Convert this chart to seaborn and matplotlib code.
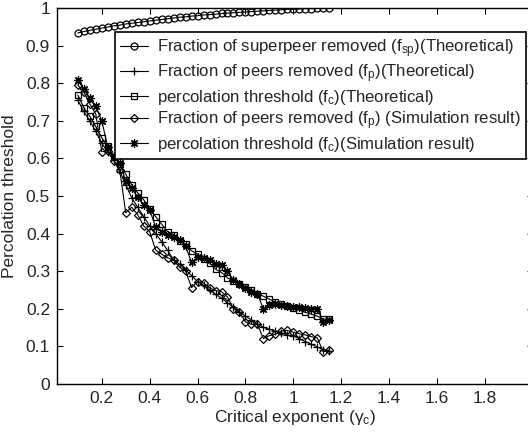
import numpy as np
import pandas as pd
import matplotlib
matplotlib.use("Agg")
import matplotlib.pyplot as plt
import seaborn as sns

# Critical exponent grid shared by all curves
gamma_c = [0.100, 0.125, 0.150, 0.175, 0.200, 0.225, 0.250, 0.275, 0.300, 0.325,
           0.350, 0.375, 0.400, 0.425, 0.450, 0.475, 0.500, 0.525, 0.550, 0.575,
           0.600, 0.625, 0.650, 0.675, 0.700, 0.725, 0.750, 0.775, 0.800, 0.825,
           0.850, 0.875, 0.900, 0.925, 0.950, 0.975, 1.000, 1.025, 1.050, 1.075,
           1.100, 1.125, 1.150]

# Fraction of superpeers removed (theoretical)
f_sp_theory = [0.934, 0.938, 0.941, 0.944, 0.947, 0.950, 0.953, 0.955, 0.958, 0.960,
               0.962, 0.964, 0.966, 0.968, 0.970, 0.972, 0.974, 0.976, 0.977, 0.979,
               0.980, 0.982, 0.983, 0.984, 0.986, 0.987, 0.988, 0.989, 0.990, 0.991,
               0.992, 0.993, 0.994, 0.995, 0.996, 0.997, 0.997, 0.998, 0.999, 0.999,
               1.000, 1.000, 1.000]

# Fraction of peers removed (theoretical)
f_p_theory = [0.755, 0.725, 0.700, 0.672, 0.640, 0.618, 0.595, 0.565, 0.530, 0.495,
              0.470, 0.445, 0.420, 0.400, 0.378, 0.355, 0.330, 0.318, 0.303, 0.288,
              0.272, 0.262, 0.250, 0.238, 0.228, 0.215, 0.203, 0.192, 0.180, 0.170,
              0.160, 0.150, 0.145, 0.140, 0.135, 0.130, 0.127, 0.120, 0.112, 0.105,
              0.098, 0.090, 0.088]

# Percolation threshold (theoretical)
f_c_theory = [0.769, 0.735, 0.712, 0.685, 0.655, 0.632, 0.605, 0.585, 0.558, 0.530,
              0.508, 0.490, 0.466, 0.445, 0.425, 0.405, 0.397, 0.380, 0.372, 0.354,
              0.345, 0.333, 0.322, 0.305, 0.296, 0.282, 0.273, 0.266, 0.258, 0.250,
              0.240, 0.233, 0.225, 0.218, 0.212, 0.207, 0.202, 0.196, 0.190, 0.185,
              0.180, 0.172, 0.172]

# Fraction of peers removed (simulation)
f_p_sim = [0.795, 0.777, 0.745, 0.718, 0.618, 0.620, 0.594, 0.570, 0.455, 0.470,
           0.450, 0.420, 0.405, 0.356, 0.345, 0.335, 0.330, 0.310, 0.300, 0.256,
           0.272, 0.268, 0.255, 0.248, 0.245, 0.231, 0.200, 0.190, 0.165, 0.158,
           0.158, 0.120, 0.128, 0.132, 0.140, 0.142, 0.137, 0.133, 0.130, 0.125,
           0.122, 0.085, 0.090]

# Percolation threshold (simulation)
f_c_sim = [0.808, 0.785, 0.760, 0.739, 0.700, 0.630, 0.606, 0.587, 0.540, 0.520,
           0.497, 0.475, 0.463, 0.417, 0.405, 0.395, 0.390, 0.383, 0.366, 0.323,
           0.337, 0.335, 0.330, 0.318, 0.315, 0.300, 0.275, 0.265, 0.255, 0.245,
           0.238, 0.200, 0.210, 0.212, 0.210, 0.208, 0.205, 0.203, 0.202, 0.200,
           0.200, 0.165, 0.170]

labels = [
    r"Fraction of superpeer removed (f$_{sp}$)(Theoretical)",
    r"Fraction of peers removed (f$_{p}$)(Theoretical)",
    r"percolation threshold (f$_{c}$)(Theoretical)",
    r"Fraction of peers removed (f$_{p}$) (Simulation result)",
    r"percolation threshold (f$_{c}$)(Simulation result)",
]
x_ticks = [0.2, 0.4, 0.6, 0.8, 1, 1.2, 1.4, 1.6, 1.8]
y_ticks = [0, 0.1, 0.2, 0.3, 0.4, 0.5, 0.6, 0.7, 0.8, 0.9, 1]
y_ticklabels = ["0", "0.1", "0.2", "0.3", "0.4", "0.5", "0.6", "0.7", "0.8", "0.9", "1"]

sns.set_style("ticks")
plt.rcParams["font.family"] = ["Liberation Sans", "DejaVu Sans"]
plt.rcParams["mathtext.fontset"] = "custom"
plt.rcParams["mathtext.rm"] = "Liberation Sans"
plt.rcParams["mathtext.it"] = "Liberation Sans"
plt.rcParams["mathtext.default"] = "regular"

fig = plt.figure(figsize=(5.28, 4.37), dpi=100)
ax = fig.add_axes([57 / 528, 53.3 / 437, 475.8 / 528, 375.5 / 437])

series = [f_sp_theory, f_p_theory, f_c_theory, f_p_sim, f_c_sim]
styles = [
    dict(marker="o", markersize=5, markerfacecolor="none"),
    dict(marker="+", markersize=6),
    dict(marker="s", markersize=5, markerfacecolor="none"),
    dict(marker="D", markersize=4.5, markerfacecolor="none"),
    dict(marker=(8, 2, 0), markersize=6),
]

df = pd.DataFrame({"gamma": gamma_c})
for lab, vals, st in zip(labels, series, styles):
    df[lab] = vals
    sns.lineplot(data=df, x="gamma", y=lab, ax=ax, color="black", linewidth=0.8,
                 markeredgecolor="black", markeredgewidth=0.9, label=lab, **st)

ax.set_xlim(0.013, 2.0)
ax.set_ylim(0, 1)
ax.set_xticks(x_ticks)
ax.set_xticklabels([f"{t:g}" for t in x_ticks])
ax.set_yticks(y_ticks)
ax.set_yticklabels(y_ticklabels)
ax.tick_params(direction="in", length=4, width=0.8, labelsize=12.5, color="black",
               top=True, right=True, pad=5)
for sp in ax.spines.values():
    sp.set_visible(True)
    sp.set_linewidth(1.0)
    sp.set_color("black")

ax.set_xlabel(r"Critical exponent ($\gamma_c$)", fontsize=12.5, labelpad=2)
ax.set_ylabel("Percolation threshold", fontsize=12.5, labelpad=6)

leg = ax.legend(loc="upper left", bbox_to_anchor=(115 / 528, 1 - 32 / 437),
                bbox_transform=fig.transFigure, fontsize=12.1, frameon=True,
                fancybox=False, borderaxespad=0, handlelength=1.65,
                handletextpad=0.55, labelspacing=0.16, borderpad=0.3)
leg.get_frame().set_edgecolor("black")
leg.get_frame().set_linewidth(1.2)
leg.get_frame().set_alpha(1)

fig.savefig("out.png", dpi=100)
